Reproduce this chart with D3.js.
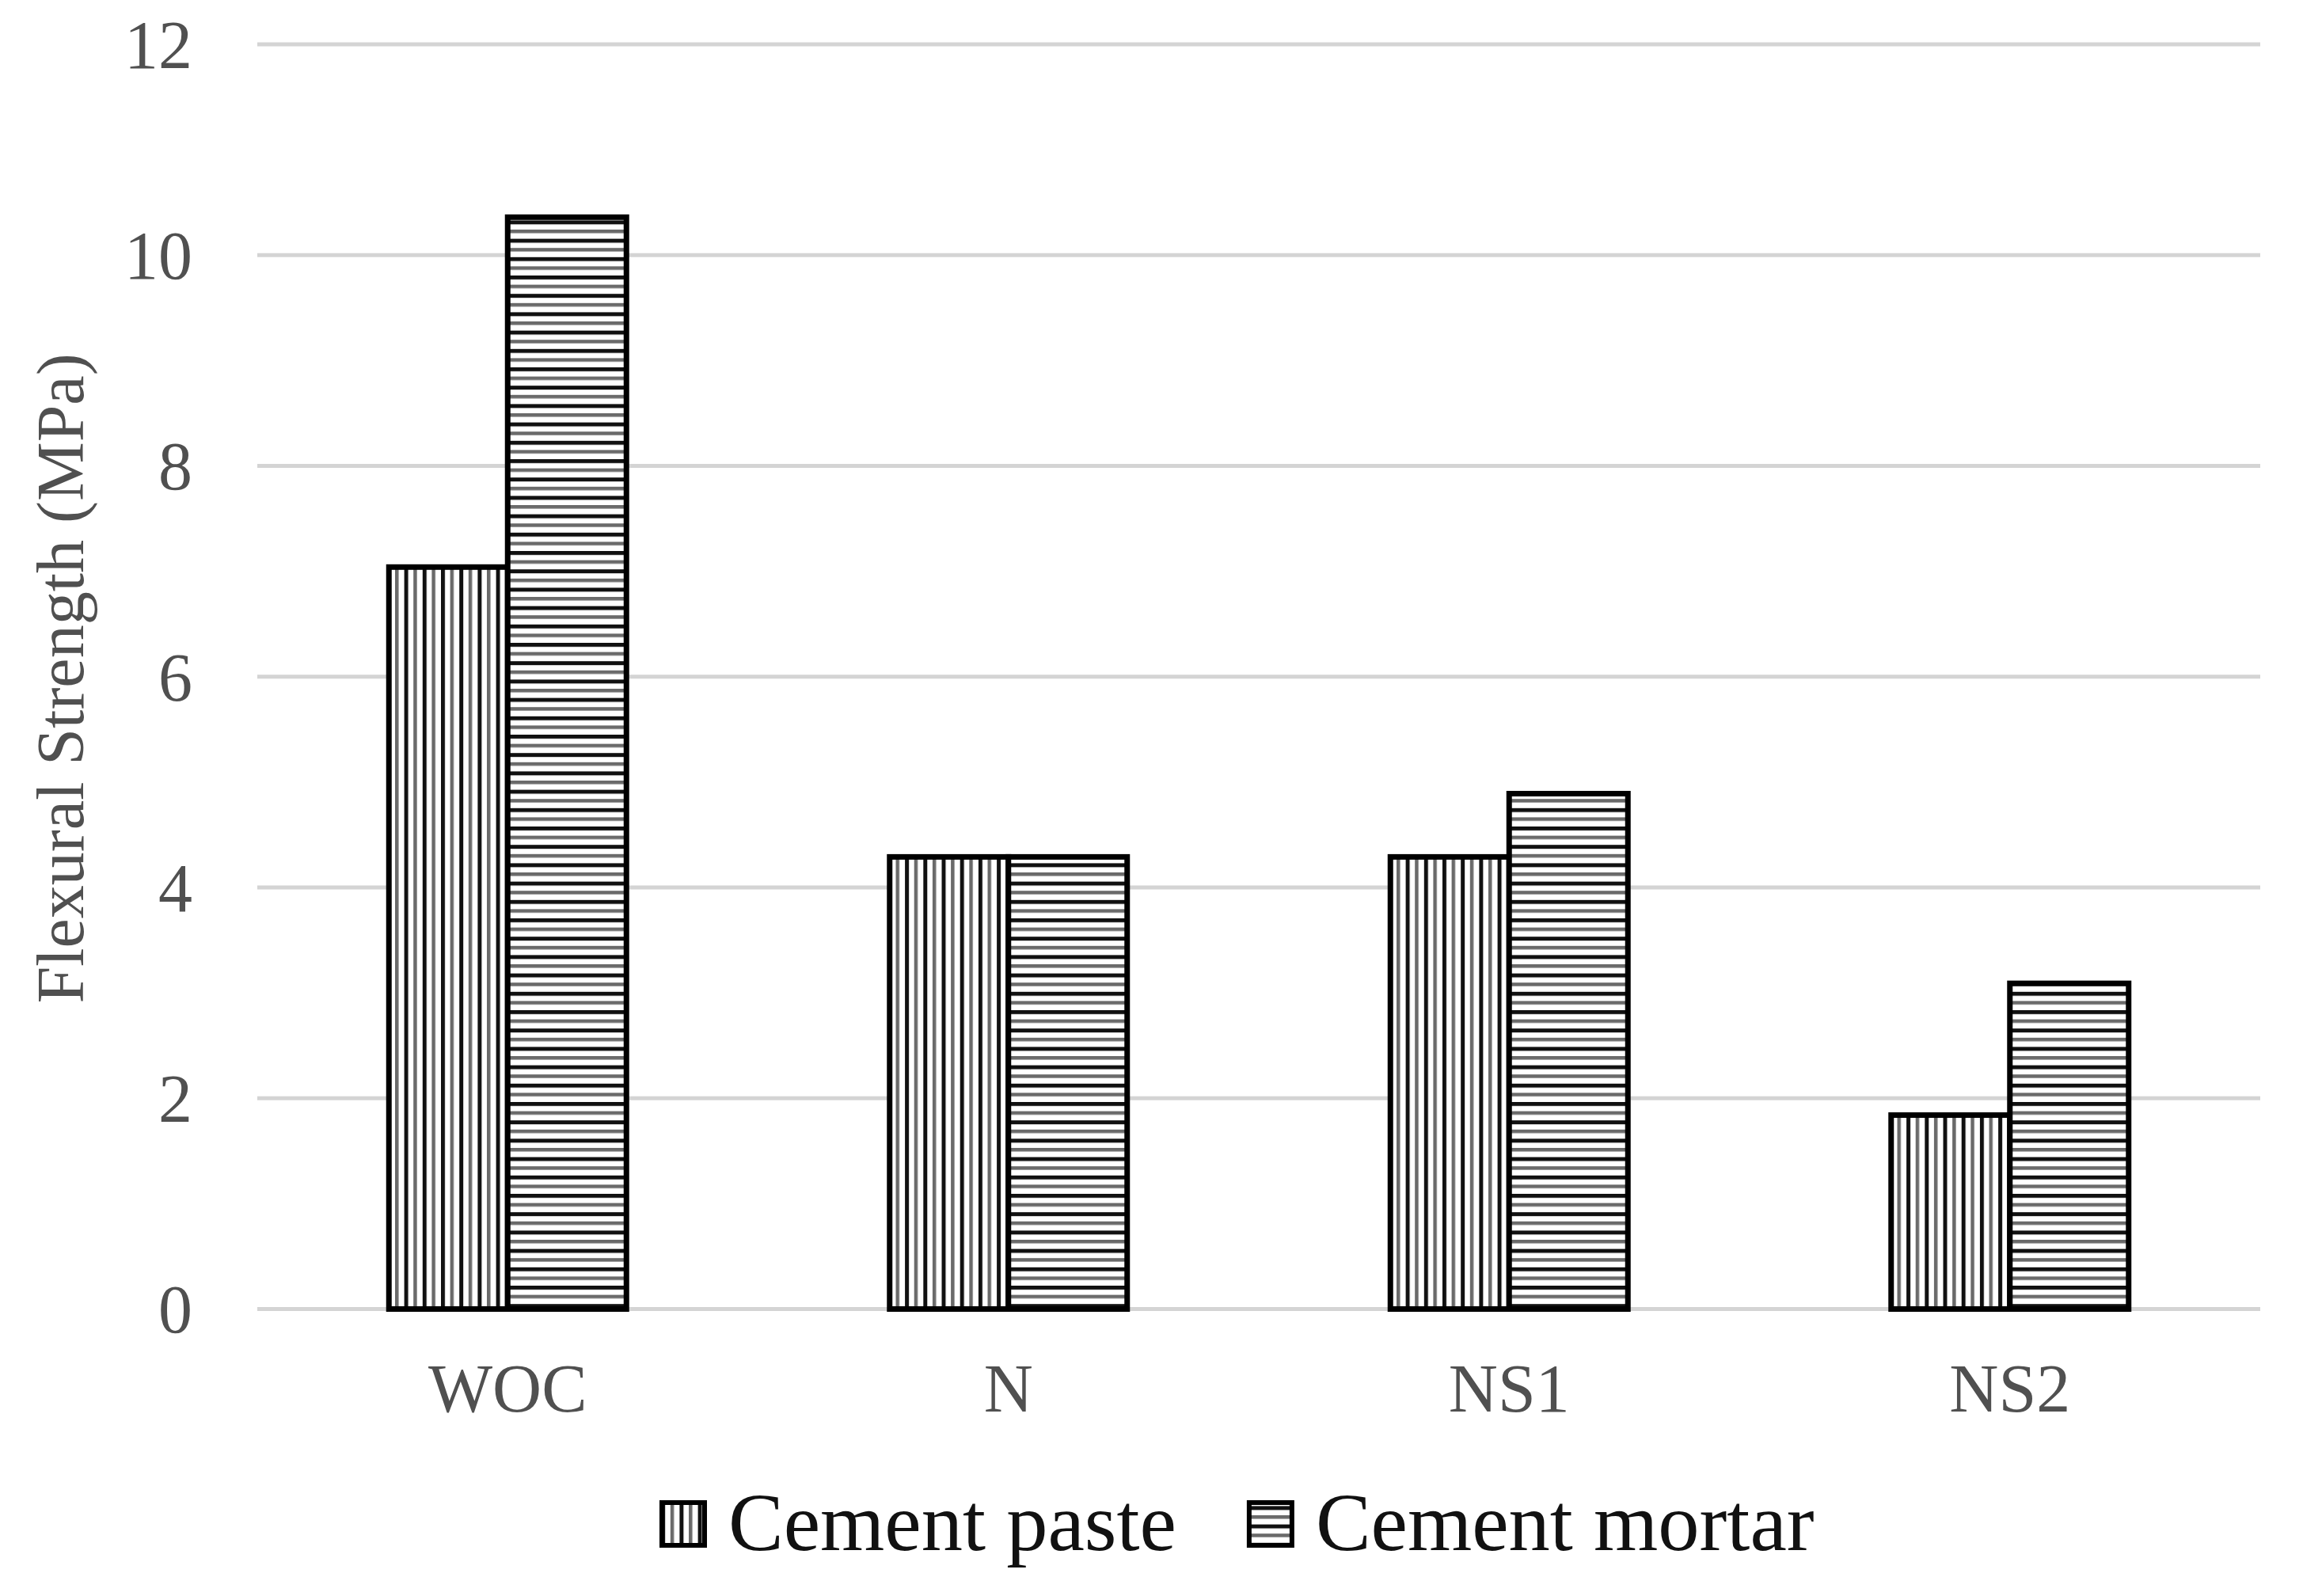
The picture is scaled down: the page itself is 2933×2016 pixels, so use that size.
<!DOCTYPE html>
<html>
<head>
<meta charset="utf-8">
<script src="https://cdn.jsdelivr.net/npm/d3@7"></script>
<style>
  html, body { margin: 0; padding: 0; background: #fff; }
  svg { display: block; }
  text { font-family: "Liberation Serif", "Times New Roman", serif; }
</style>
</head>
<body>
<svg id="chart" width="2933" height="2016"></svg>
<script>
// ---- data ----
const categories = ["WOC", "N", "NS1", "NS2"];
const seriesNames = ["Cement paste", "Cement mortar"];
const cementPaste = [7.04, 4.29, 4.29, 1.84];
const cementMortar = [10.36, 4.29, 4.89, 3.09];
const yTicks = [0, 2, 4, 6, 8, 10, 12];
const yTitle = "Flexural Strength (MPa)";

const seriesValues = [cementPaste, cementMortar];
const patternIds = ["pat-vert", "pat-horiz"];

// ---- layout ----
const W = 2933, H = 2016;
const plot = { left: 325, right: 2855, top: 56, bottom: 1653.5 };
const barWidth = 150;

const svg = d3.select("#chart");
svg.append("rect").attr("width", W).attr("height", H).attr("fill", "#fff");

// patterns (dark line + lighter line, mimicking the resampled hatch)
const defs = svg.append("defs");
const period = 23.2;
const pv = defs.append("pattern").attr("id", "pat-vert").attr("patternUnits", "userSpaceOnUse")
  .attr("width", period).attr("height", 20);
pv.append("rect").attr("width", period).attr("height", 20).attr("fill", "#fff");
pv.append("rect").attr("x", 0).attr("width", 5).attr("height", 20).attr("fill", "#111");
pv.append("rect").attr("x", period / 2).attr("width", 4.5).attr("height", 20).attr("fill", "#6a6a6a");
const ph = defs.append("pattern").attr("id", "pat-horiz").attr("patternUnits", "userSpaceOnUse")
  .attr("width", 20).attr("height", period);
ph.append("rect").attr("width", 20).attr("height", period).attr("fill", "#fff");
ph.append("rect").attr("y", 0).attr("width", 20).attr("height", 5).attr("fill", "#111");
ph.append("rect").attr("y", period / 2).attr("width", 20).attr("height", 4.5).attr("fill", "#6a6a6a");

// scales
const y = d3.scaleLinear().domain([0, 12]).range([plot.bottom, plot.top]);
const x0 = d3.scaleBand().domain(categories).range([plot.left, plot.right]).padding(0);
const outerPad = (x0.bandwidth() / barWidth - 2) / 2;
const x1 = d3.scaleBand().domain(seriesNames).range([0, x0.bandwidth()])
  .paddingInner(0).paddingOuter(outerPad);

// gridlines
svg.append("g").selectAll("line").data(yTicks).join("line")
  .attr("x1", plot.left).attr("x2", plot.right)
  .attr("y1", d => y(d)).attr("y2", d => y(d))
  .attr("stroke", "#d4d4d4").attr("stroke-width", 5);

// y axis tick labels
const yAxis = d3.axisLeft(y).tickValues(yTicks).tickSize(0).tickPadding(0);
const gy = svg.append("g").attr("transform", `translate(243,0)`).call(yAxis);
gy.select(".domain").remove();
gy.selectAll("text")
  .attr("font-family", "Liberation Serif").attr("font-size", 86)
  .attr("fill", "#505050").attr("dy", "0.34em");

// bars
const groups = svg.append("g").selectAll("g").data(categories).join("g")
  .attr("transform", d => `translate(${x0(d)},0)`);
groups.selectAll("rect")
  .data((c, i) => seriesNames.map((s, j) => ({ s, j, v: seriesValues[j][i] })))
  .join("rect")
  .attr("x", d => x1(d.s))
  .attr("width", x1.bandwidth())
  .attr("y", d => y(d.v))
  .attr("height", d => y(0) - y(d.v))
  .attr("fill", d => `url(#${patternIds[d.j]})`)
  .attr("stroke", "#000").attr("stroke-width", 7);

// x axis labels
const xAxis = d3.axisBottom(x0).tickSize(0).tickPadding(0);
const gx = svg.append("g").attr("transform", `translate(0,1783)`).call(xAxis);
gx.select(".domain").remove();
gx.selectAll("text")
  .attr("font-family", "Liberation Serif").attr("font-size", 86)
  .attr("fill", "#505050").attr("dy", 0);

// y title
svg.append("text")
  .attr("transform", "translate(105,857) rotate(-90)")
  .attr("text-anchor", "middle")
  .attr("font-size", 84).attr("fill", "#505050")
  .text(yTitle);

// legend
const leg = svg.append("g");
let lx = 836;
const sw = 54, baseline = 1958;
seriesNames.forEach((name, j) => {
  leg.append("rect").attr("x", lx).attr("y", baseline - 60).attr("width", sw).attr("height", sw)
    .attr("fill", `url(#${patternIds[j]})`).attr("stroke", "#000").attr("stroke-width", 6);
  const t = leg.append("text").attr("x", lx + sw + 30).attr("y", baseline)
    .attr("font-size", 104.5).attr("fill", "#111").text(name);
  lx = lx + sw + 30 + t.node().getComputedTextLength() + 92;
});
</script>
</body>
</html>
